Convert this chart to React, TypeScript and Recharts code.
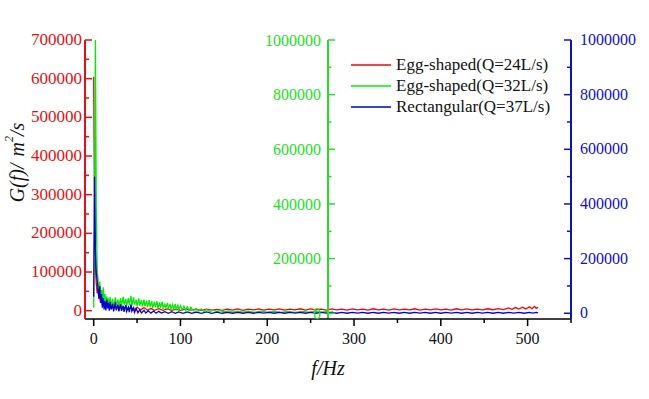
import React from "react";
import { LineChart, Line, XAxis, YAxis, ReferenceLine, Legend } from "recharts";

const SERIF = '"Liberation Serif", "Times New Roman", serif';
const RED = "#E81010";
const GREEN = "#22E022";
const BLUE = "#1010C8";

// frequency (Hz), G(f)
const redSpectrum: [number, number][] = [
  [0, 605000], [1, 240000], [2, 110000], [3, 70000], [4, 45000], [5, 58000], [6, 30000], [7, 44000], [8, 20000], [9, 34000],
  [10, 14000], [12, 30000], [13, 10000], [15, 26000], [16, 8000], [18, 22000], [19, 6000], [21, 20000], [22, 5000], [24, 18000],
  [26, 5000], [28, 16000], [30, 4000], [32, 14000], [34, 3000], [37, 12000], [40, 3000], [43, 10000], [46, 2000], [50, 9000],
  [54, 2000], [58, 8000], [62, 1000], [66, 6000], [70, 1000], [75, 5000], [80, 1000], [85, 4500], [90, 1000], [95, 4000],
  [100, 1000], [106, 4000], [112, 1500], [118, 3500], [124, 1000], [130, 4000], [136, 1500], [142, 3500], [148, 1000], [154, 4000],
  [160, 1500], [166, 4500], [172, 1000], [178, 4000], [184, 2000], [190, 4500], [196, 1500], [202, 4000], [208, 2000], [214, 4500],
  [220, 1500], [226, 4000], [232, 2000], [238, 5000], [244, 1500], [250, 4500], [256, 2000], [262, 4000], [268, 1500], [274, 4500],
  [280, 2000], [286, 4000], [292, 1500], [298, 4500], [304, 2000], [310, 4000], [316, 1500], [322, 5000], [328, 2000], [334, 4000],
  [340, 1500], [346, 4500], [352, 2000], [358, 4000], [364, 2000], [370, 5000], [376, 1500], [382, 4000], [388, 2000], [394, 4500],
  [400, 2000], [406, 4000], [412, 1500], [418, 5000], [424, 2000], [430, 4500], [436, 2000], [442, 4000], [448, 2000], [454, 5000],
  [460, 2500], [466, 5500], [472, 3000], [478, 7000], [482, 3500], [486, 8000], [490, 4000], [494, 9000], [498, 4500], [502, 10000],
  [505, 5000], [508, 11000], [510, 6000], [512, 9000],
];

const greenSpectrum: [number, number][] = [
  [0, 20000], [1, 350000], [2, 1000000], [3, 380000], [4, 160000], [5, 125000], [6, 70000], [7, 115000], [8, 60000], [9, 85000],
  [10, 45000], [11, 95000], [12, 40000], [13, 70000], [14, 30000], [15, 62000], [16, 28000], [17, 55000], [18, 25000], [19, 60000],
  [20, 30000], [22, 52000], [23, 22000], [25, 58000], [26, 30000], [28, 50000], [29, 24000], [31, 55000], [32, 28000], [34, 60000],
  [35, 30000], [37, 52000], [38, 26000], [40, 56000], [41, 30000], [43, 64000], [44, 28000], [46, 58000], [47, 32000], [49, 50000],
  [50, 26000], [52, 54000], [53, 28000], [55, 48000], [56, 24000], [58, 50000], [59, 26000], [61, 46000], [62, 22000], [64, 48000],
  [65, 24000], [67, 44000], [68, 20000], [70, 42000], [71, 22000], [73, 44000], [74, 18000], [76, 40000], [77, 20000], [79, 42000],
  [80, 16000], [82, 36000], [83, 18000], [85, 38000], [86, 15000], [88, 34000], [89, 16000], [91, 32000], [92, 14000], [94, 34000],
  [95, 14000], [97, 30000], [98, 12000], [100, 28000], [102, 12000], [104, 26000], [106, 10000], [108, 24000], [110, 10000], [112, 22000],
  [115, 9000], [118, 18000], [121, 8000], [124, 16000], [127, 7000], [130, 14000], [134, 6000], [138, 12000], [142, 5000], [146, 10000],
  [150, 5000], [155, 9000], [160, 4000], [166, 8000], [172, 4000], [178, 8000], [185, 3500], [192, 7500], [200, 4000], [208, 7000],
  [216, 3500], [224, 7000], [232, 3500], [240, 7000], [248, 4000], [256, 6500], [262, 4000], [268, 6000], [272, 3000], [276, 5000],
];

const blueSpectrum: [number, number][] = [
  [0, 60000], [1, 500000], [2, 230000], [3, 150000], [4, 120000], [5, 90000], [6, 55000], [7, 100000], [8, 38000], [9, 70000],
  [10, 20000], [11, 55000], [12, 14000], [13, 45000], [14, 10000], [15, 50000], [16, 18000], [17, 38000], [18, 9000], [19, 42000],
  [20, 14000], [22, 34000], [23, 7000], [25, 40000], [26, 11000], [28, 30000], [29, 7000], [31, 34000], [32, 9000], [34, 27000],
  [35, 5000], [37, 30000], [38, 7000], [40, 22000], [41, 4000], [43, 32000], [44, 7000], [46, 20000], [47, 3000], [49, 17000],
  [51, 2000], [53, 13000], [55, 1500], [58, 11000], [60, 1000], [63, 9000], [66, 500], [69, 8000], [72, 0], [75, 7000],
  [78, 500], [82, 6000], [86, 0], [90, 5500], [94, 0], [98, 5000], [103, 0], [108, 5000], [113, 0], [118, 4500],
  [124, 0], [130, 5000], [136, 0], [142, 4000], [148, 0], [154, 3500], [160, 0], [166, 3500], [172, 0], [178, 3000],
  [184, 0], [190, 3000], [196, 500], [202, 3000], [208, 0], [214, 3500], [220, 0], [226, 3000], [232, 500], [238, 3000],
  [244, 0], [250, 3500], [256, 0], [262, 3000], [268, 500], [274, 3000], [280, 0], [286, 3500], [292, 0], [298, 3000],
  [304, 500], [310, 3000], [316, 0], [322, 3500], [328, 0], [334, 3000], [340, 500], [346, 3000], [352, 0], [358, 3500],
  [364, 0], [370, 3000], [376, 500], [382, 3000], [388, 0], [394, 3500], [400, 0], [406, 3000], [412, 500], [418, 3000],
  [424, 0], [430, 3500], [436, 0], [442, 3000], [448, 500], [454, 3000], [460, 0], [466, 3500], [472, 0], [478, 3000],
  [484, 500], [490, 3500], [496, 0], [502, 3000], [506, 500], [510, 3000], [512, 1000],
];

const xTicks = [0, 50, 100, 150, 200, 250, 300, 350, 400, 450, 500, 550];
const leftTicks = [0, 50000, 100000, 150000, 200000, 250000, 300000, 350000, 400000, 450000, 500000, 550000, 600000, 650000, 700000];
const rightTicks = [0, 100000, 200000, 300000, 400000, 500000, 600000, 700000, 800000, 900000, 1000000];
const GREEN_AXIS_AT = 270;

const legendItems = [
  { name: "Egg-shaped(Q=24L/s)", color: "#FF0000" },
  { name: "Egg-shaped(Q=32L/s)", color: "#00EE00" },
  { name: "Rectangular(Q=37L/s)", color: "#0000CC" },
];

const toRows = (pts: [number, number][]) => pts.map(([f, v]) => ({ f, v }));

function XTick({ x, y, payload }: any) {
  const major = payload.value % 100 === 0 && payload.value <= 500;
  return (
    <g>
      <line x1={x} x2={x} y1={y} y2={y + (major ? 7 : 4)} stroke="#000" strokeWidth={1.5} />
      {major && (
        <text x={x} y={y + 25} textAnchor="middle" fill="#111" fontSize={16} fontFamily={SERIF}>
          {payload.value}
        </text>
      )}
    </g>
  );
}

function LeftTick({ x, y, payload }: any) {
  const major = payload.value % 100000 === 0;
  return (
    <g>
      <line x1={x} x2={x + (major ? 7 : 4)} y1={y} y2={y} stroke={RED} strokeWidth={1.5} />
      {major && (
        <text x={x - 3} y={y + 5} textAnchor="end" fill={RED} fontSize={17} fontFamily={SERIF}>
          {payload.value}
        </text>
      )}
    </g>
  );
}

function RightTick({ x, y, payload }: any) {
  const major = payload.value % 200000 === 0;
  return (
    <g>
      <line x1={x} x2={x - (major ? 7 : 4)} y1={y} y2={y} stroke={BLUE} strokeWidth={1.5} />
      {major && (
        <text x={x + 9} y={y + 5} textAnchor="start" fill={BLUE} fontSize={16} fontFamily={SERIF}>
          {payload.value}
        </text>
      )}
    </g>
  );
}

function YTitle({ viewBox }: any) {
  const cx = viewBox.x + 17;
  const cy = viewBox.y + viewBox.height / 2 - 17;
  return (
    <text
      x={cx}
      y={cy}
      transform={`rotate(-90 ${cx} ${cy})`}
      textAnchor="middle"
      dominantBaseline="central"
      fontSize={20}
      fontStyle="italic"
      fontFamily={SERIF}
      fill="#111"
    >
      G(f)/<tspan dx={7}>m</tspan>
      <tspan fontSize={12} dy={-8}>2</tspan>
      <tspan dy={8}>/s</tspan>
    </text>
  );
}

function XTitle({ viewBox }: any) {
  return (
    <text
      x={viewBox.x + viewBox.width / 2}
      y={viewBox.y + 56}
      textAnchor="middle"
      fontSize={20}
      fontStyle="italic"
      fontFamily={SERIF}
      fill="#111"
    >
      f/Hz
    </text>
  );
}

function renderLegend() {
  return (
    <div style={{ fontFamily: SERIF, fontSize: 17, color: "#111" }}>
      {legendItems.map((item) => (
        <div key={item.name} style={{ display: "flex", alignItems: "center", height: 21 }}>
          <svg width={40} height={4} style={{ marginRight: 5 }}>
            <line x1={0} x2={40} y1={2} y2={2} stroke={item.color} strokeWidth={1.5} />
          </svg>
          <span style={{ whiteSpace: "nowrap" }}>{item.name}</span>
        </div>
      ))}
    </div>
  );
}

export default function App() {
  return (
    <div style={{ position: "absolute", left: 0, top: 0, background: "#fff" }}>
      <LineChart width={649} height={399} margin={{ top: 40, right: 0, bottom: 0, left: 0 }}>
        <XAxis
          dataKey="f"
          type="number"
          domain={[-10, 550]}
          allowDataOverflow
          ticks={xTicks}
          interval={0}
          height={80}
          tickSize={0}
          tickMargin={0}
          tickLine={false}
          tick={XTick}
          axisLine={{ stroke: "#000", strokeWidth: 1.5 }}
          label={XTitle}
        />
        <YAxis
          yAxisId="r"
          type="number"
          domain={[-21500, 700000]}
          allowDataOverflow
          ticks={leftTicks}
          interval={0}
          width={85}
          tickSize={0}
          tickMargin={0}
          tickLine={false}
          tick={LeftTick}
          axisLine={{ stroke: RED, strokeWidth: 2 }}
          label={YTitle}
        />
        <YAxis yAxisId="g" type="number" domain={[-21000, 1000000]} allowDataOverflow hide width={0} />
        <YAxis
          yAxisId="b"
          orientation="right"
          type="number"
          domain={[-21000, 1000000]}
          allowDataOverflow
          ticks={rightTicks}
          interval={0}
          width={78}
          tickSize={0}
          tickMargin={0}
          tickLine={false}
          tick={RightTick}
          axisLine={{ stroke: BLUE, strokeWidth: 2 }}
        />
        <Legend
          layout="horizontal"
          verticalAlign="middle"
          align="center"
          content={renderLegend}
          wrapperStyle={{ left: 351, top: 54, width: "auto" }}
        />
        <Line yAxisId="r" data={toRows(redSpectrum)} dataKey="v" type="linear" stroke="#FF0000" strokeWidth={1.3} dot={false} isAnimationActive={false} />
        <Line yAxisId="g" data={toRows(greenSpectrum)} dataKey="v" type="linear" stroke="#00EE00" strokeWidth={1.3} dot={false} isAnimationActive={false} />
        <Line yAxisId="b" data={toRows(blueSpectrum)} dataKey="v" type="linear" stroke="#0000DD" strokeWidth={1.3} dot={false} isAnimationActive={false} />
        <ReferenceLine yAxisId="g" x={GREEN_AXIS_AT} stroke={GREEN} strokeWidth={2} />
        {rightTicks.map((v) => {
          const major = v % 200000 === 0;
          return (
            <ReferenceLine
              key={v}
              yAxisId="g"
              segment={[{ x: GREEN_AXIS_AT, y: v }, { x: GREEN_AXIS_AT + (major ? 8 : 4), y: v }]}
              stroke={GREEN}
              strokeWidth={1.5}
              label={major ? { value: String(v), position: "left", offset: 7, fill: GREEN, fontSize: 16, fontFamily: SERIF } : undefined}
            />
          );
        })}
      </LineChart>
    </div>
  );
}
